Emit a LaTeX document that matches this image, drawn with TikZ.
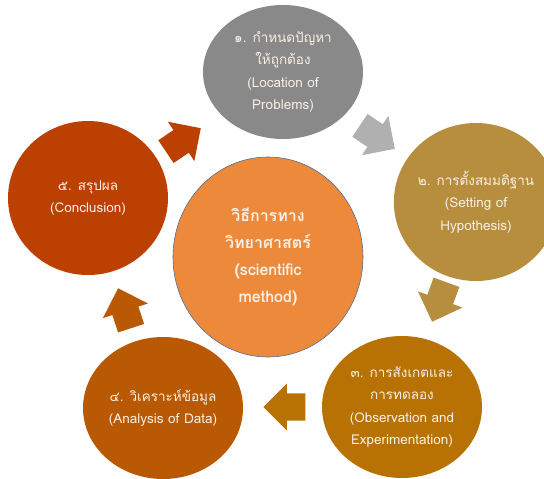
\documentclass[tikz,border=0pt]{standalone}
\usepackage{fontspec}
\newfontfamily\thaifont[Script=Thai]{Loma}
\usetikzlibrary{shapes.geometric,shapes.arrows}
\definecolor{grayone}{RGB}{137,137,137}
\definecolor{grayarrow}{RGB}{176,176,176}
\definecolor{goldtwo}{RGB}{183,142,62}
\definecolor{ochrethree}{RGB}{184,113,3}
\definecolor{brownfour}{RGB}{186,89,3}
\definecolor{rustfive}{RGB}{188,64,2}
\definecolor{centerorange}{RGB}{237,137,59}
\definecolor{centerline}{RGB}{84,110,150}
\definecolor{textcream}{RGB}{250,240,230}
\tikzset{
  stepcircle/.style={ellipse, fill=#1, draw=none, inner sep=0pt,
    minimum width=160pt, text=textcream, align=center,
    font=\thaifont\fontsize{13.5}{22.5}\selectfont},
  blockarrow/.style={single arrow, fill=#1, draw=none, inner sep=0pt,
    text height=27pt, text depth=0pt, text width=0pt,
    minimum height=42pt, minimum width=47pt,
    single arrow head extend=10pt, anchor=tip}
}
\begin{document}
\begin{tikzpicture}[x=1pt,y=-1pt]
  \useasboundingbox (0,0) rectangle (544,479);
  \clip (0,0) rectangle (544,479);
  % centre
  \node[ellipse, fill=centerorange, draw=centerline, line width=0.6pt,
        minimum width=190pt, minimum height=200pt, inner sep=0pt,
        text=textcream, align=center,
        font=\thaifont\bfseries\fontsize{16}{27}\selectfont] (method) at (268,257)
        {วิธีการทาง\\วิทยาศาสตร์\\(scientific\\method)};
  % the five steps
  \node[stepcircle=grayone, minimum height=134pt] (problem) at (283,72)
        {๑. กำหนดปัญหา\\ให้ถูกต้อง\\(Location of\\Problems)};
  \node[stepcircle=goldtwo, minimum height=158pt] (hypo) at (476,202)
        {๒. การตั้งสมมติฐาน\\(Setting of\\Hypothesis)};
  \node[stepcircle=ochrethree, minimum height=142pt] (observe) at (402,407)
        {๓. การสังเกตและ\\การทดลอง\\(Observation and\\Experimentation)};
  \node[stepcircle=brownfour, minimum height=142pt] (analysis) at (163,408)
        {๔. วิเคราะห์ข้อมูล\\(Analysis of Data)};
  \node[stepcircle=rustfive, minimum height=154pt] (conclude) at (88,198)
        {๕. สรุปผล\\(Conclusion)};
  % block arrows
  \node[blockarrow=rustfive, rotate=34] (a51) at (201,128) {};
  \node[blockarrow=grayarrow, rotate=-34] (a12) at (395,149) {};
  \node[blockarrow=goldtwo, rotate=-110] (a23) at (432,322) {};
  \node[blockarrow=ochrethree, rotate=180] (a34) at (263,407) {};
  \node[blockarrow=brownfour, rotate=108] (a45) at (118,288) {};
\end{tikzpicture}
\end{document}
